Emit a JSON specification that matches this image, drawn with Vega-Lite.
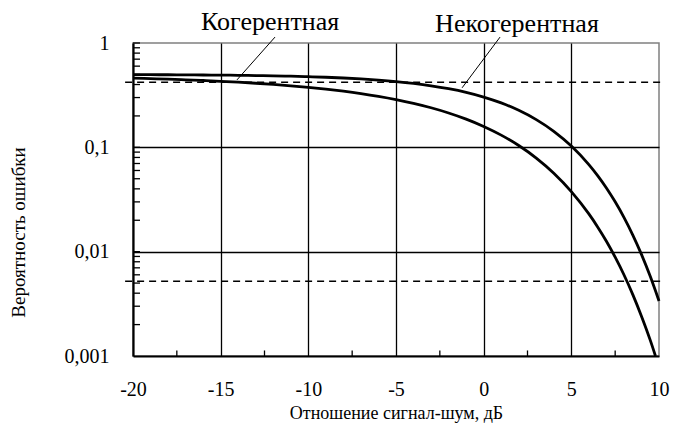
{
  "$schema": "https://vega.github.io/schema/vega-lite/v6.json",
  "width": 526,
  "height": 313,
  "autosize": {"type": "none"},
  "padding": {"left": 133, "top": 43, "right": 19, "bottom": 81},
  "background": "white",
  "config": {
    "view": {"stroke": "#808080", "strokeWidth": 1.5},
    "font": "Liberation Serif, DejaVu Serif, serif"
  },
  "layer": [
    {
      "data": {"values": [
        {"x": -20, "y": 0.49751, "s": "nc"}, {"x": -19, "y": 0.49686, "s": "nc"}, {"x": -18, "y": 0.49605, "s": "nc"},
        {"x": -17, "y": 0.49504, "s": "nc"}, {"x": -16, "y": 0.49376, "s": "nc"}, {"x": -15, "y": 0.49216, "s": "nc"},
        {"x": -14, "y": 0.49015, "s": "nc"}, {"x": -13, "y": 0.48763, "s": "nc"}, {"x": -12, "y": 0.48447, "s": "nc"},
        {"x": -11, "y": 0.48053, "s": "nc"}, {"x": -10, "y": 0.47561, "s": "nc"}, {"x": -9, "y": 0.46949, "s": "nc"},
        {"x": -8, "y": 0.4619, "s": "nc"}, {"x": -7, "y": 0.45252, "s": "nc"}, {"x": -6, "y": 0.44098, "s": "nc"},
        {"x": -5, "y": 0.42688, "s": "nc"}, {"x": -4, "y": 0.40975, "s": "nc"}, {"x": -3, "y": 0.38915, "s": "nc"},
        {"x": -2, "y": 0.36459, "s": "nc"}, {"x": -1, "y": 0.33609, "s": "nc"}, {"x": 0, "y": 0.30327, "s": "nc"},
        {"x": 1, "y": 0.26647, "s": "nc"}, {"x": 2, "y": 0.22636, "s": "nc"}, {"x": 3, "y": 0.18437, "s": "nc"},
        {"x": 4, "y": 0.14239, "s": "nc"}, {"x": 5, "y": 0.10287, "s": "nc"}, {"x": 6, "y": 0.06831, "s": "nc"},
        {"x": 6.5, "y": 0.05358, "s": "nc"}, {"x": 7, "y": 0.04078, "s": "nc"}, {"x": 7.5, "y": 0.03004, "s": "nc"},
        {"x": 8, "y": 0.02133, "s": "nc"}, {"x": 8.5, "y": 0.01451, "s": "nc"}, {"x": 9, "y": 0.00942, "s": "nc"},
        {"x": 9.5, "y": 0.005801, "s": "nc"}, {"x": 10, "y": 0.003369, "s": "nc"},
        {"x": -20, "y": 0.46017, "s": "c"}, {"x": -19, "y": 0.4553, "s": "c"}, {"x": -18, "y": 0.44991, "s": "c"},
        {"x": -17, "y": 0.44384, "s": "c"}, {"x": -16, "y": 0.43704, "s": "c"}, {"x": -15, "y": 0.42943, "s": "c"},
        {"x": -14, "y": 0.42093, "s": "c"}, {"x": -13, "y": 0.41143, "s": "c"}, {"x": -12, "y": 0.40083, "s": "c"},
        {"x": -11, "y": 0.38903, "s": "c"}, {"x": -10, "y": 0.37591, "s": "c"}, {"x": -9, "y": 0.36137, "s": "c"},
        {"x": -8, "y": 0.34528, "s": "c"}, {"x": -7, "y": 0.32756, "s": "c"}, {"x": -6, "y": 0.30812, "s": "c"},
        {"x": -5, "y": 0.28694, "s": "c"}, {"x": -4, "y": 0.26403, "s": "c"}, {"x": -3, "y": 0.23949, "s": "c"},
        {"x": -2, "y": 0.2135, "s": "c"}, {"x": -1, "y": 0.1864, "s": "c"}, {"x": 0, "y": 0.15866, "s": "c"},
        {"x": 1, "y": 0.13093, "s": "c"}, {"x": 2, "y": 0.10403, "s": "c"}, {"x": 3, "y": 0.0789, "s": "c"},
        {"x": 4, "y": 0.05649, "s": "c"}, {"x": 5, "y": 0.03768, "s": "c"}, {"x": 6, "y": 0.023, "s": "c"},
        {"x": 6.5, "y": 0.01728, "s": "c"}, {"x": 7, "y": 0.01259, "s": "c"}, {"x": 7.5, "y": 0.00886, "s": "c"},
        {"x": 8, "y": 0.00601, "s": "c"}, {"x": 8.5, "y": 0.0039, "s": "c"}, {"x": 9, "y": 0.00241, "s": "c"},
        {"x": 9.5, "y": 0.00142, "s": "c"}, {"x": 9.8, "y": 0.001, "s": "c"}
      ]},
      "mark": {"type": "line", "color": "black", "strokeWidth": 2.8, "interpolate": "monotone"},
      "encoding": {
        "x": {
          "field": "x", "type": "quantitative",
          "scale": {"domain": [-20, 10], "nice": false, "zero": false},
          "axis": {
            "title": "Отношение сигнал-шум, дБ",
            "titleFont": "Liberation Serif, DejaVu Serif, serif", "titleFontSize": 18, "titleFontWeight": "normal", "titleColor": "black",
            "titleY": 62, "titleBaseline": "alphabetic",
            "values": [-20, -15, -10, -5, 0, 5, 10],
            "labelExpr": "datum.value + ''",
            "labelFont": "Liberation Serif, DejaVu Serif, serif", "labelFontSize": 20, "labelColor": "black", "labelPadding": 23,
            "labelFlush": false, "labelOverlap": false,
            "ticks": false,
            "domainColor": "black", "domainWidth": 2.2,
            "grid": true, "gridColor": "black", "gridWidth": 1.3,
            "gridOpacity": {"condition": {"test": "datum.value === -20 || datum.value === 10", "value": 0}, "value": 1}
          }
        },
        "y": {
          "field": "y", "type": "quantitative",
          "scale": {"type": "log", "domain": [0.001, 1], "nice": false},
          "axis": {
            "title": "Вероятность ошибки",
            "titleFont": "Liberation Serif, DejaVu Serif, serif", "titleFontSize": 19, "titleFontWeight": "normal", "titleColor": "black",
            "titleX": -115, "titleY": 189, "titleAngle": -90, "titleAlign": "center", "titleBaseline": "middle",
            "values": [0.001, 0.01, 0.1, 1],
            "labelExpr": "replace(datum.value + '', '.', ',')",
            "labelFont": "Liberation Serif, DejaVu Serif, serif", "labelFontSize": 20, "labelColor": "black", "labelPadding": 24,
            "labelFlush": false, "labelOverlap": false,
            "ticks": false,
            "domainColor": "black", "domainWidth": 2.2,
            "grid": true, "gridColor": "black", "gridWidth": 1.3,
            "gridOpacity": {"condition": {"test": "datum.value === 0.01 || datum.value === 0.1", "value": 1}, "value": 0}
          }
        },
        "detail": {"field": "s", "type": "nominal"}
      }
    },
    {
      "data": {"values": [
        {"v": 0.002}, {"v": 0.003}, {"v": 0.004}, {"v": 0.005}, {"v": 0.006}, {"v": 0.007}, {"v": 0.008}, {"v": 0.009},
        {"v": 0.01},
        {"v": 0.02}, {"v": 0.03}, {"v": 0.04}, {"v": 0.05}, {"v": 0.06}, {"v": 0.07}, {"v": 0.08}, {"v": 0.09},
        {"v": 0.1},
        {"v": 0.2}, {"v": 0.3}, {"v": 0.4}, {"v": 0.5}, {"v": 0.6}, {"v": 0.7}, {"v": 0.8}, {"v": 0.9}, {"v": 1}
      ]},
      "mark": {"type": "rule", "color": "black", "strokeWidth": 1.3},
      "encoding": {
        "y": {"field": "v", "type": "quantitative"},
        "x": {"datum": -20},
        "x2": {"datum": -19.6}
      }
    },
    {
      "data": {"values": [
        {"v": -17.5}, {"v": -12.5}, {"v": -7.5}, {"v": -2.5}, {"v": 2.5}, {"v": 7.5}
      ]},
      "mark": {"type": "rule", "color": "black", "strokeWidth": 1.3},
      "encoding": {
        "x": {"field": "v", "type": "quantitative"},
        "y": {"datum": 0.001},
        "y2": {"datum": 0.00113}
      }
    },
    {
      "data": {"values": [
        {"x": -20.45, "x2": 10.2, "y": 0.42},
        {"x": -20.45, "x2": 10.2, "y": 0.0052}
      ]},
      "mark": {"type": "rule", "color": "black", "strokeWidth": 1.6, "strokeDash": [7, 5]},
      "encoding": {
        "x": {"field": "x", "type": "quantitative"},
        "x2": {"field": "x2"},
        "y": {"field": "y", "type": "quantitative"}
      }
    },
    {
      "data": {"values": [
        {"x": -11.9, "y": 1.14, "x2": -14.07, "y2": 0.443},
        {"x": 0.935, "y": 1.14, "x2": -1.23, "y2": 0.372}
      ]},
      "mark": {"type": "rule", "color": "black", "strokeWidth": 1},
      "encoding": {
        "x": {"field": "x", "type": "quantitative"},
        "x2": {"field": "x2"},
        "y": {"field": "y", "type": "quantitative"},
        "y2": {"field": "y2"}
      }
    },
    {
      "data": {"values": [
        {"x": -12.18, "y": 1.335, "label": "Когерентная"},
        {"x": 1.9, "y": 1.278, "label": "Некогерентная"}
      ]},
      "mark": {"type": "text", "font": "Liberation Serif, DejaVu Serif, serif", "fontSize": 26, "color": "black", "align": "center", "baseline": "alphabetic"},
      "encoding": {
        "x": {"field": "x", "type": "quantitative"},
        "y": {"field": "y", "type": "quantitative"},
        "text": {"field": "label"}
      }
    }
  ]
}
